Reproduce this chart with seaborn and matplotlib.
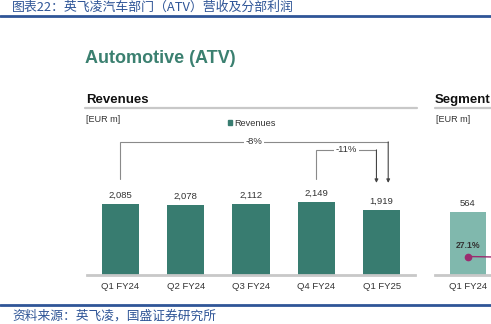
import matplotlib
matplotlib.use("Agg")
import matplotlib.pyplot as plt
import seaborn as sns
import pandas as pd

# ---------------- data ----------------
quarters = ["Q1 FY24", "Q2 FY24", "Q3 FY24", "Q4 FY24", "Q1 FY25"]
revenues = [2085, 2078, 2112, 2149, 1919]
growth_labels = ["-8%", "-11%"]          # Q1 FY25 vs Q1 FY24, Q1 FY25 vs Q4 FY24

seg_quarters = ["Q1 FY24", "Q2 FY24"]
seg_result = [564, 524]
seg_margin = [27.1, 25.2]

title_text = "图表22：英飞凌汽车部门（ATV）营收及分部利润"
source_text = "资料来源：英飞凌，国盛证券研究所"

# ---------------- style ----------------
sns.set_theme(style="white")
plt.rcParams["font.family"] = ["Liberation Sans", "DejaVu Sans"]
CJK = ["Noto Sans CJK SC", "DejaVu Sans"]

W, H = 491, 324
fig = plt.figure(figsize=(W / 100, H / 100), dpi=100)
fx = lambda px: px / W
fy = lambda py: 1 - py / H

BAR = "#387c70"
BAR_LIGHT = "#80b8ad"
TEAL_TXT = "#3b8070"
BLUE = "#2f5597"
GRID = "#c8c8c8"
TXT = "#333333"
BRK = "#8a8a8a"

# ---------------- main revenue axes ----------------
base_py, top_py = 274.5, 130
ax = fig.add_axes([fx(87), fy(base_py), fx(415) - fx(87), (base_py - top_py) / H])
df = pd.DataFrame({"quarter": quarters, "revenue": revenues})
sns.barplot(data=df, x="quarter", y="revenue", color=BAR, width=0.57,
            saturation=1, ax=ax, edgecolor="none")
ax.set_xlim(-0.51, 4.51)
ax.set_ylim(0, 4300)
ax.set_xlabel("")
ax.set_ylabel("")
ax.set_yticks([])
for s in ["left", "right", "top"]:
    ax.spines[s].set_visible(False)
ax.spines["bottom"].set_color(GRID)
ax.spines["bottom"].set_linewidth(2)
ax.tick_params(axis="x", length=0, pad=5.5, labelsize=6.8, labelcolor=TXT)
ax.bar_label(ax.containers[0], labels=[f"{v:,}" for v in revenues],
             padding=3, fontsize=6.8, color=TXT)

# growth brackets
y_start, y_tip = 2845, 2726
def bracket(i0, i1, dx1, y_top, label):
    x0, x1 = i0, i1 + dx1
    ax.plot([x0, x0, x1], [y_start, y_top, y_top], color=BRK, lw=0.8,
            solid_joinstyle="miter")
    ax.annotate("", xy=(x1, y_tip), xytext=(x1, y_top),
                arrowprops=dict(arrowstyle="-|>", color="#444444", lw=0.8,
                                mutation_scale=5, shrinkA=0, shrinkB=0))
    ax.text((x0 + x1) / 2, y_top, label, ha="center", va="center",
            fontsize=6.8, color=TXT,
            bbox=dict(fc="white", ec="none", pad=1.2))

bracket(0, 4, 0.1, 3947, growth_labels[0])
bracket(3, 4, -0.08, 3709, growth_labels[1])

# ---------------- segment axes (cut off at right) ----------------
ax2 = fig.add_axes([fx(435), fy(base_py), 125 / W, (base_py - top_py) / H])
df2 = pd.DataFrame({"quarter": seg_quarters, "result": seg_result})
sns.barplot(data=df2, x="quarter", y="result", color=BAR_LIGHT, width=0.54,
            saturation=1, ax=ax2, edgecolor="none")
ax2.set_xlim(-0.505, 1.41)
ax2.set_ylim(0, 1314)
ax2.set_xlabel("")
ax2.set_ylabel("")
ax2.set_yticks([])
ax2.set_xticks([0], [seg_quarters[0]])
for s in ["left", "right", "top"]:
    ax2.spines[s].set_visible(False)
ax2.spines["bottom"].set_color(GRID)
ax2.spines["bottom"].set_linewidth(2)
ax2.tick_params(axis="x", length=0, pad=5.5, labelsize=6.8, labelcolor=TXT)
ax2.bar_label(ax2.containers[0],
              labels=[f"{seg_result[0]:,}"] + [""] * (len(seg_result) - 1),
              padding=3, fontsize=6.8, color=TXT)
ax3 = ax2.twinx()
ax3.set_ylim(0, 217.6)
ax3.set_yticks([])
for s in ax3.spines.values():
    s.set_visible(False)
ax3.plot(range(len(seg_margin)), seg_margin, color="#9b2b6f", lw=1,
         marker="o", markersize=4.5)
ax3.annotate(f"{seg_margin[0]:.1f}%", (0, seg_margin[0]), xytext=(0, 5),
             textcoords="offset points", ha="center", va="bottom",
             fontsize=6.2, fontweight="bold", color=TXT)

# ---------------- headings / decorations ----------------
fig.text(fx(12), fy(7), title_text, family=CJK, fontsize=9.3, color=BLUE,
         style="italic", ha="left", va="center")
fig.add_artist(plt.Line2D([0, 1], [fy(15.5), fy(15.5)], color=BLUE, lw=2))

fig.text(fx(85), fy(63), "Automotive (ATV)", fontsize=13, fontweight="bold",
         color=TEAL_TXT, ha="left", va="baseline")

fig.text(fx(86), fy(102.7), "Revenues", fontsize=9.5, fontweight="bold",
         color="#111111", ha="left", va="baseline")
fig.text(fx(435), fy(102.7), "Segment", fontsize=9.5, fontweight="bold",
         color="#111111", ha="left", va="baseline")
fig.add_artist(plt.Line2D([fx(85), fx(417)], [fy(108), fy(108)], color=GRID, lw=1.6))
fig.add_artist(plt.Line2D([fx(435), 1], [fy(108), fy(108)], color=GRID, lw=1.6))

fig.text(fx(86), fy(119), "[EUR m]", fontsize=6.5, color=TXT, ha="left", va="center")
fig.text(fx(436), fy(119), "[EUR m]", fontsize=6.5, color=TXT, ha="left", va="center")

fig.add_artist(plt.Rectangle((fx(227.7), fy(125)), 4.5 / W, 4.5 / H,
                             transform=fig.transFigure, color=BAR))
fig.text(fx(234), fy(123), "Revenues", fontsize=6.6, color=TXT, ha="left", va="center")

fig.add_artist(plt.Line2D([0, 1], [fy(305), fy(305)], color=BLUE, lw=2))
fig.text(fx(12), fy(316), source_text, family=CJK, fontsize=9.2, color=BLUE,
         style="italic", ha="left", va="center")

fig.savefig("out.png", dpi=100)
